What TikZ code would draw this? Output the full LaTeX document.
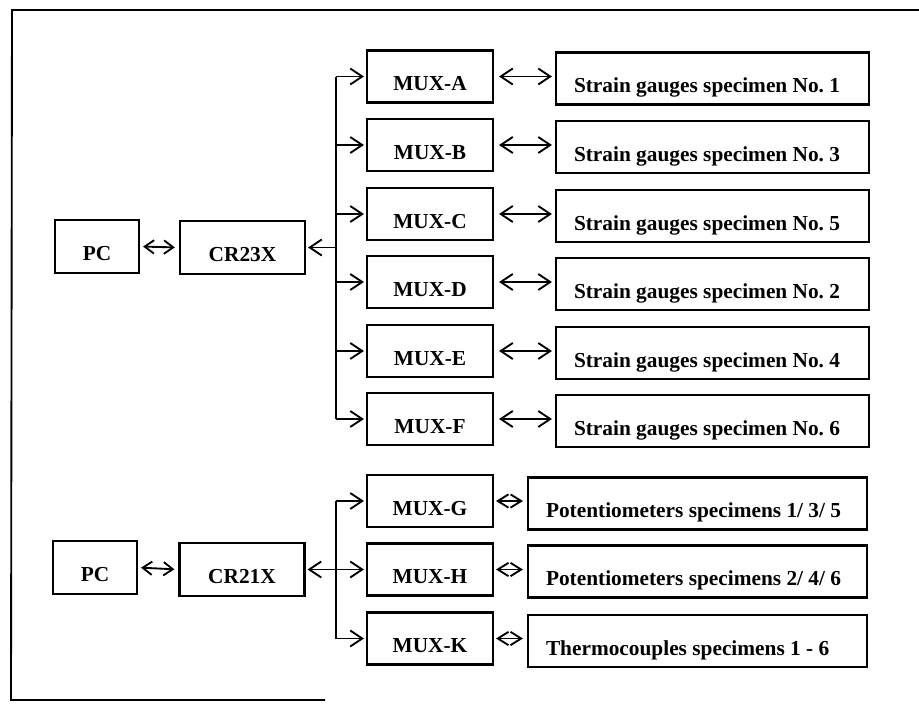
\documentclass[tikz,border=0pt]{standalone}
\usepackage{fontspec}
\setmainfont{Liberation Serif}
\usetikzlibrary{arrows.meta}
\frenchspacing
\newcommand\leftfill[2]{\makebox[#1][l]{#2}}
\begin{document}
\begin{tikzpicture}[x=0.75pt,y=-0.75pt,
  box/.style={draw,line width=1.6pt,inner sep=0pt,font=\bfseries\fontsize{16}{18}\selectfont,text height=21.3pt,text depth=0pt},
  pcbox/.style={box,minimum width=63pt,minimum height=39.75pt},
  crbox/.style={box,minimum width=93.75pt,minimum height=39.75pt},
  muxbox/.style={box,minimum width=94.5pt,minimum height=39pt},
  sgbox/.style={box,minimum height=39pt,inner xsep=13.5pt},
  potbox/.style={box,minimum height=39pt,inner xsep=13.5pt},
  wire/.style={line width=1.4pt},
  feed/.style={line width=1.4pt,-{Straight Barb[length=9pt,width=12pt,line width=1.4pt]},shorten >=1.5pt},
  dbl/.style={line width=1.4pt,{Straight Barb[length=9pt,width=12pt,line width=1.4pt]}-{Straight Barb[length=9pt,width=12pt,line width=1.4pt]}},
  sdbl/.style={line width=1.4pt,{Straight Barb[length=7pt,width=10pt,line width=1.4pt]}-{Straight Barb[length=7pt,width=10pt,line width=1.4pt]}},
  pdbl/.style={line width=1.4pt,{Straight Barb[length=8pt,width=10pt,line width=1.4pt]}-{Straight Barb[length=8pt,width=10pt,line width=1.4pt]}}
]
\useasboundingbox (0,0) rectangle (919,703);
% frame
\draw[line width=1.4pt] (919,10) -- (12,10) -- (11,700) -- (325,700);

% upper group
\node[pcbox] (PC1) at (97,246.5) {PC};
\node[crbox] (CR23) at (242.5,247.5) {CR23X};
\node[muxbox] (A) at (430,76.5) {MUX-A};
\node[muxbox] (B) at (430,145) {MUX-B};
\node[muxbox] (C) at (430,214) {MUX-C};
\node[muxbox] (D) at (430,282) {MUX-D};
\node[muxbox] (E) at (430,351) {MUX-E};
\node[muxbox] (F) at (430,419) {MUX-F};
\node[sgbox] (SA) at (712.5,78.5) {\leftfill{207.75pt}{Strain gauges specimen No. 1}};
\node[sgbox] (SB) at (712.5,147) {\leftfill{207.75pt}{Strain gauges specimen No. 3}};
\node[sgbox] (SC) at (712.5,216) {\leftfill{207.75pt}{Strain gauges specimen No. 5}};
\node[sgbox] (SD) at (712.5,284) {\leftfill{207.75pt}{Strain gauges specimen No. 2}};
\node[sgbox] (SE) at (712.5,353) {\leftfill{207.75pt}{Strain gauges specimen No. 4}};
\node[sgbox] (SF) at (712.5,421) {\leftfill{207.75pt}{Strain gauges specimen No. 6}};

\coordinate (bx) at (336,0);
\draw[wire] (A.west -| bx) -- (F.west -| bx);
\foreach \m in {A,B,C,D,E,F}{
  \draw[feed] (\m.west -| bx) -- (\m.west);
  \draw[dbl,shorten <=3.75pt,shorten >=2.25pt] (\m.east) -- (\m.east -| S\m.west);
}
\draw[feed] (CR23.east -| bx) -- (CR23.east);
\draw[sdbl,shorten <=2.25pt,shorten >=3pt] (PC1.east) -- (CR23.west);

% lower group
\node[pcbox] (PC2) at (95,567.5) {PC};
\node[crbox] (CR21) at (242,569.5) {CR21X};
\node[muxbox] (G) at (430,501) {MUX-G};
\node[muxbox] (H) at (430,569.5) {MUX-H};
\node[muxbox] (K) at (430,638.5) {MUX-K};
\node[potbox] (PG) at (697.5,503.5) {\leftfill{227.25pt}{Potentiometers specimens 1/ 3/ 5}};
\node[potbox] (PH) at (697.5,571.5) {\leftfill{227.25pt}{Potentiometers specimens 2/ 4/ 6}};
\node[potbox] (PK) at (697.5,641) {\leftfill{227.25pt}{Thermocouples specimens 1 - 6}};

\draw[wire] (G.west -| bx) -- (K.west -| bx);
\draw[feed] (G.west -| bx) -- (G.west);
\draw[feed] (K.west -| bx) -- (K.west);
\draw[dbl,shorten <=1.5pt,shorten >=1.5pt] (CR21.east) -- (H.west);
\draw[sdbl,shorten <=2.25pt,shorten >=3pt] (PC2.east) -- (CR21.west);
\foreach \m in {G,H,K}{
  \draw[pdbl,shorten <=1.5pt,shorten >=3pt] (\m.east) -- (\m.east -| P\m.west);
}
\end{tikzpicture}
\end{document}
